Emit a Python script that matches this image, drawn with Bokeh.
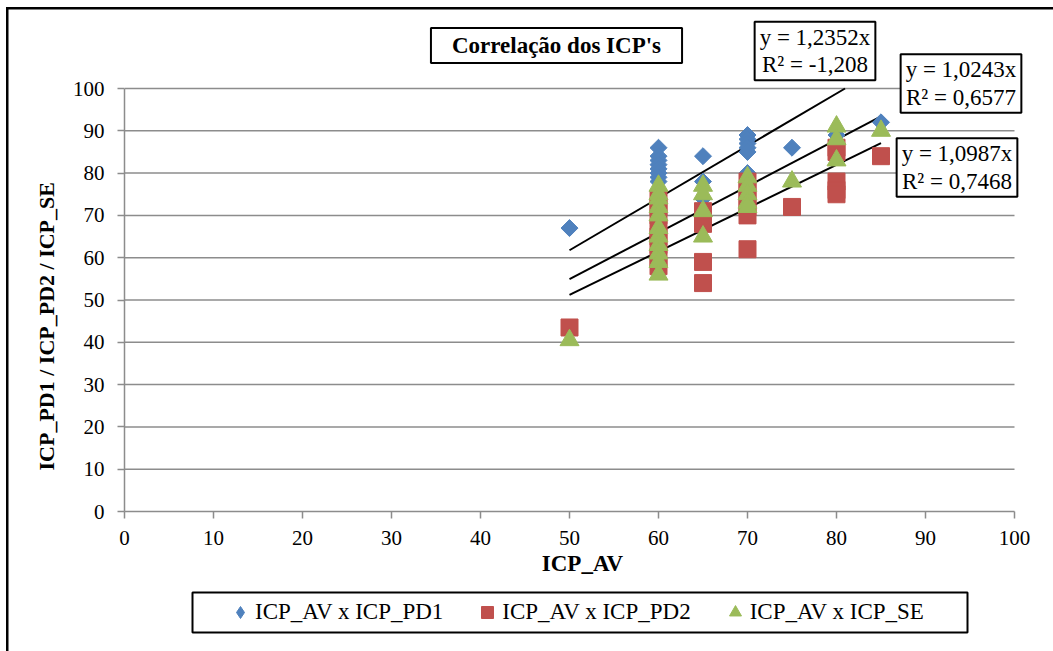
from bokeh.plotting import figure
from bokeh.layouts import column
from bokeh.models import (Range1d, FixedTicker, Label, Legend, LegendItem, InlineStyleSheet,
                          BoxAnnotation, Title)
from bokeh.embed import file_html
from bokeh.resources import INLINE
import math

# ---- data ----
x_pd1 = [50, 60, 60, 60, 60, 60, 60, 60, 60, 65, 65, 65, 70, 70, 70, 70, 70, 70, 75, 80, 85]
y_pd1 = [67, 86, 84, 83, 82, 81, 80, 79, 78, 84, 78, 74, 89, 88, 87, 86, 85, 80, 86, 89, 92]

x_pd2 = [50, 60, 60, 60, 60, 60, 60, 60, 60, 65, 65, 65, 65, 70, 70, 70, 70, 70, 70, 75, 80, 80, 80, 80, 80, 85]
y_pd2 = [43.5, 74, 72, 70, 67, 65, 63, 60, 58, 71, 68, 59, 54, 78, 76, 74, 72, 70, 62, 72, 86, 85, 78, 76, 75, 84]

x_se = [50, 60, 60, 60, 60, 60, 60, 60, 60, 60, 60, 60, 65, 65, 65, 65, 70, 70, 70, 70, 70, 75, 80, 80, 80, 85]
y_se = [40.5, 77, 75, 74, 72, 70, 67, 65, 63, 61, 59, 56, 77, 75, 71, 65, 79, 77, 75, 73, 72, 78, 91, 88, 83, 90]

series_names = ["ICP_AV x ICP_PD1", "ICP_AV x ICP_PD2", "ICP_AV x ICP_SE"]
trend_slopes = [1.2352, 1.0243, 1.0987]
trend_r2 = ["-1,208", "0,6577", "0,7468"]
trend_slope_text = ["1,2352", "1,0243", "1,0987"]
trend_x = [50, 85]
ticks = list(range(0, 101, 10))
grid_ticks = ticks[1:]

title_text = "Correlação dos ICP's"
x_title = "ICP_AV"
y_title = "ICP_PD1 / ICP_PD2 / ICP_SE"

SERIF = "Liberation Serif"
BLUE, RED, GREEN = "#4F81BD", "#C0504D", "#9BBB59"
GRID = "#8C8C8C"

# pixel geometry of the plot area (x: 0 -> 124px, 100 -> 1014px ; y: 0 -> 511px, 100 -> 88px)
PXU = 8.9
PYU = 4.23
FRAME_L, FRAME_R = 124, 1040

MAIN_H = 585
p = figure(width=1053, height=MAIN_H,
           x_range=Range1d(0, (FRAME_R - FRAME_L) / PXU), y_range=Range1d(0, 511 / PYU),
           output_backend="svg", toolbar_location=None,
           min_border_left=FRAME_L, min_border_right=1053 - FRAME_R,
           min_border_top=0, min_border_bottom=MAIN_H - 511)
p.outline_line_color = None
p.background_fill_color = "white"
p.border_fill_color = "white"
p.xgrid.visible = False
p.ygrid.visible = False

for ax in (p.xaxis[0], p.yaxis[0]):
    ax.ticker = FixedTicker(ticks=ticks)
    ax.bounds = (0, 100)
    ax.axis_line_color = GRID
    ax.axis_line_width = 1.5
    ax.major_tick_line_color = GRID
    ax.major_tick_line_width = 1.5
    ax.major_tick_out = 7
    ax.major_tick_in = 0
    ax.minor_tick_line_color = None
    ax.major_label_text_font = SERIF
    ax.major_label_text_font_size = "21px"
    ax.major_label_text_color = "black"
    ax.axis_label_text_font = SERIF
    ax.axis_label_text_font_size = "23px"
    ax.axis_label_text_font_style = "bold"
    ax.axis_label_text_color = "black"

p.xaxis.axis_label = x_title
p.xaxis.major_label_standoff = 12
p.xaxis.axis_label_standoff = 3
p.yaxis.major_label_standoff = 13

# y-axis title, placed along the 0..100 part of the axis
p.add_layout(Title(text=y_title, align="left", offset=41, standoff=22, vertical_align="bottom",
                   text_font=SERIF, text_font_size="22px", text_font_style="bold", text_color="black"),
             "left")

# horizontal gridlines over the 0..100 x extent
p.segment(x0=[0] * len(grid_ticks), x1=[100] * len(grid_ticks), y0=grid_ticks, y1=grid_ticks,
          line_color=GRID, line_width=1.5)

# trend lines (clipped at y = 100)
for s in trend_slopes:
    xs = [trend_x[0], min(trend_x[1], 100 / s)]
    p.line(xs, [s * v for v in xs], line_color="black", line_width=2)

p.scatter(x_pd1, y_pd1, marker="square", angle=math.pi / 4, size=12, fill_color=BLUE, line_color=BLUE)
p.scatter(x_pd2, y_pd2, marker="square", size=17, fill_color=RED, line_color=RED)
p.scatter(x_se, y_se, marker="triangle", size=19, fill_color=GREEN, line_color=GREEN)

def dx(px):
    return (px - FRAME_L) / PXU

def dy(py):
    return (511 - py) / PYU

# chart title box
p.add_layout(Label(x=dx(556), y=dy(45), text=title_text, text_align="center", text_baseline="middle",
                   text_font=SERIF, text_font_size="23px", text_font_style="bold", text_color="black",
                   border_line_color="black", border_line_width=2, background_fill_color="white",
                   padding=dict(left=21, right=21, top=5, bottom=5)))

# trendline equation boxes
eq_pos = [(814.5, 50.5), (960.5, 83), (956.5, 167)]
for (cx, cy), st, r2t in zip(eq_pos, trend_slope_text, trend_r2):
    p.add_layout(Label(x=dx(cx), y=dy(cy), text=f"y = {st}x\nR² = {r2t}",
                       text_align="center", text_baseline="middle",
                       text_font=SERIF, text_font_size="23px", text_line_height=1.1, text_color="black",
                       border_line_color="black", border_line_width=2, background_fill_color="white",
                       padding=dict(left=5, right=5, top=3, bottom=3)))

# ---- legend strip (y range runs in page pixels, top = 585) ----
LEG_H = 651 - MAIN_H
q = figure(width=1053, height=LEG_H, x_range=Range1d(FRAME_L, FRAME_R), y_range=Range1d(651, MAIN_H),
           x_axis_type=None, y_axis_type=None, output_backend="svg", toolbar_location=None,
           min_border_left=FRAME_L, min_border_right=1053 - FRAME_R, min_border_top=0, min_border_bottom=0)
q.outline_line_color = None
q.background_fill_color = "white"
q.border_fill_color = "white"
# same series, only used as legend keys (they fall outside this strip's ranges)
k1 = q.scatter(x_pd1, y_pd1, marker="diamond", size=12, fill_color=BLUE, line_color=BLUE)
k2 = q.scatter(x_pd2, y_pd2, marker="square", size=12, fill_color=RED, line_color=RED)
k3 = q.scatter(x_se, y_se, marker="triangle", size=12, fill_color=GREEN, line_color=GREEN)
q.add_layout(BoxAnnotation(left=192, right=967, top=592, bottom=632,
                           fill_color=None, line_color="black", line_width=2, line_alpha=1))
legend = Legend(items=[LegendItem(label=series_names[0], renderers=[k1]),
                       LegendItem(label=series_names[1], renderers=[k2]),
                       LegendItem(label=series_names[2], renderers=[k3])],
                orientation="horizontal", location=(225 - FRAME_L, 651 - 631))
legend.label_text_font = SERIF
legend.label_text_font_size = "23px"
legend.label_text_color = "black"
legend.border_line_color = None
legend.background_fill_alpha = 0
legend.padding = 0
legend.margin = 0
legend.spacing = 29
legend.glyph_width = 30
legend.glyph_height = 38
legend.label_standoff = 0
q.add_layout(legend, "center")

border_css = InlineStyleSheet(css=""":host { position: relative; }
:host::after { content: ''; position: absolute; left: 6px; top: 7px; right: 0; bottom: 0;
  background: linear-gradient(#000, #000) left top / 2.5px 100% no-repeat,
              linear-gradient(#000, #000) left top / 100% 2.5px no-repeat;
  pointer-events: none; z-index: 100; }""")
page = column(p, q, spacing=0, stylesheets=[border_css])

open("out.html", "w").write(file_html(page, INLINE))
